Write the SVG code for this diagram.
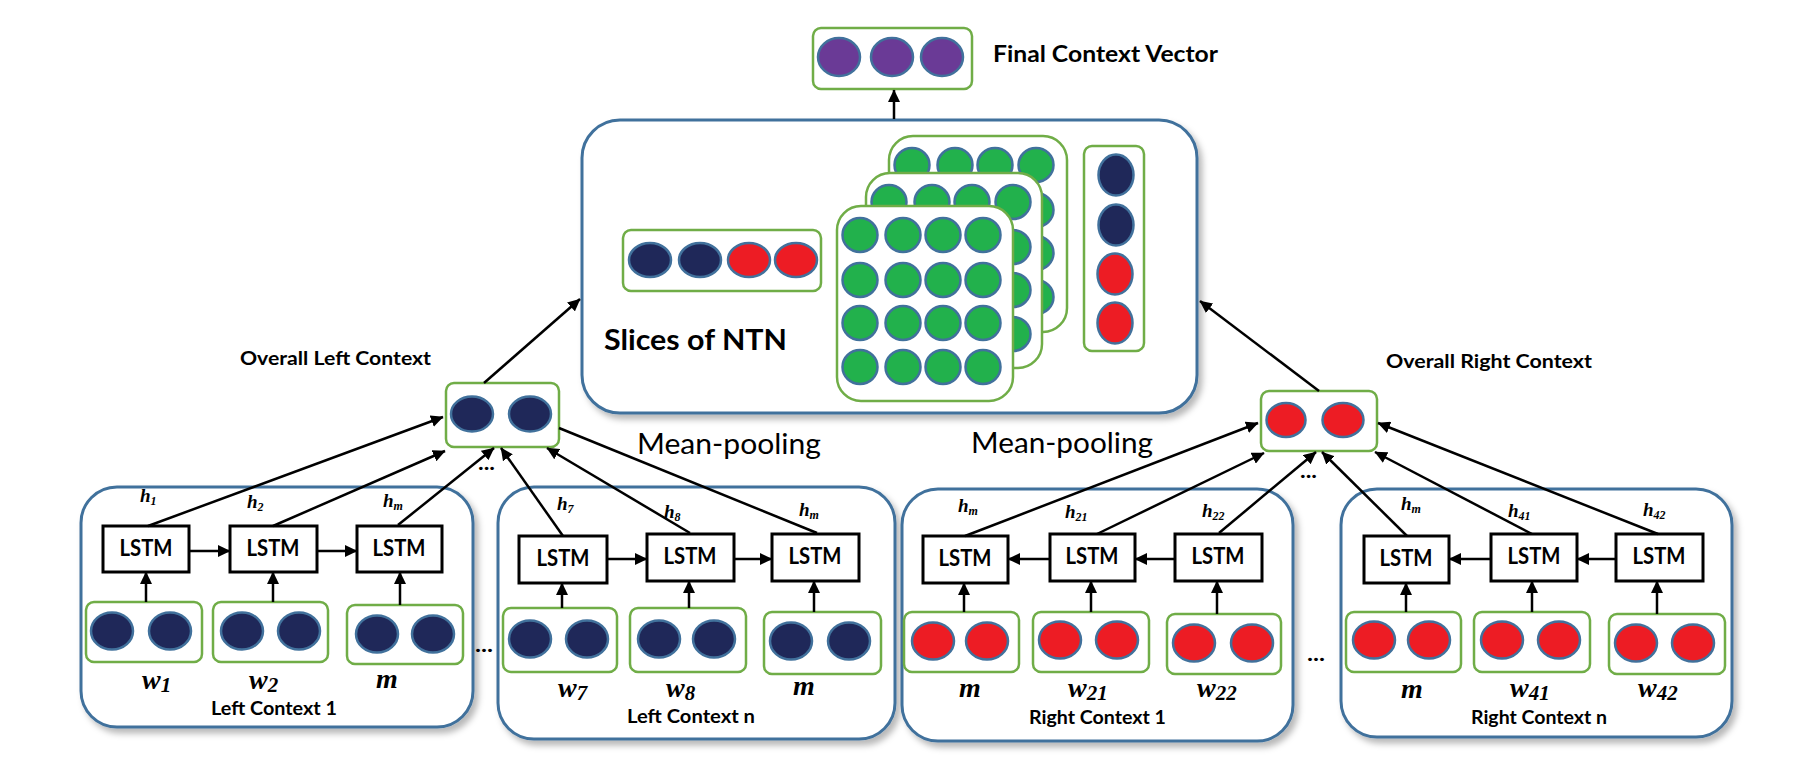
<svg xmlns="http://www.w3.org/2000/svg" width="1816" height="775" viewBox="0 0 1816 775">
<defs>
<filter id="sh" x="-5%" y="-5%" width="115%" height="120%">
<feDropShadow dx="4" dy="5" stdDeviation="3" flood-color="#000" flood-opacity="0.28"/>
</filter>
<marker id="ah" markerWidth="13" markerHeight="12" refX="12" refY="6" orient="auto" markerUnits="userSpaceOnUse">
<path d="M0,0 L12.5,6 L0,12 Z" fill="#000"/>
</marker>
<style>
.ctx{fill:#fff;stroke:#41719C;stroke-width:3;filter:url(#sh)}
.vec{fill:#fff;stroke:#70AD47;stroke-width:2.5}
.lstm{fill:#fff;stroke:#000;stroke-width:3}
.nv{fill:#1F2859;stroke:#41719C;stroke-width:2.5}
.rd{fill:#ED1C24;stroke:#41719C;stroke-width:2.5}
.gr{fill:#22B14C;stroke:#41719C;stroke-width:2.5}
.pu{fill:#6A3A96;stroke:#41719C;stroke-width:2.5}
.cn line{stroke:#000;stroke-width:2.5;marker-end:url(#ah)}
.cn line.na{marker-end:none}
.lbl{font-family:Lato,"Liberation Sans",sans-serif;font-weight:bold;fill:#000}
.reg{font-family:Lato,"Liberation Sans",sans-serif;font-weight:normal;fill:#000}
.lt{font-family:Lato,"Liberation Sans",sans-serif;font-weight:bold;font-size:22px;text-anchor:middle}
.ser{font-family:"Liberation Serif","Times New Roman",serif;font-weight:bold;font-style:italic;fill:#000}
.h{font-size:19px}
.w{font-size:28px}
</style>
</defs>

<!-- Final context vector -->
<g id="final">
<rect class="vec" x="813" y="28" width="159" height="61" rx="8"/>
<ellipse class="pu" cx="839" cy="57" rx="21" ry="19"/>
<ellipse class="pu" cx="892" cy="57" rx="21" ry="19"/>
<ellipse class="pu" cx="942" cy="57" rx="21" ry="19"/>
<text class="lbl" x="993" y="62" font-size="23" textLength="225" lengthAdjust="spacingAndGlyphs">Final Context Vector</text>
</g>

<!-- NTN -->
<g id="ntn">
<rect class="ctx" x="582" y="120" width="615" height="293" rx="38"/>
<rect class="vec" x="623" y="230" width="198" height="61" rx="8"/>
<ellipse class="nv" cx="650" cy="260" rx="21" ry="17"/>
<ellipse class="nv" cx="700" cy="260" rx="21" ry="17"/>
<ellipse class="rd" cx="749" cy="260" rx="21" ry="17"/>
<ellipse class="rd" cx="796" cy="260" rx="21" ry="17"/>
<text class="lbl" x="604" y="350" font-size="28" textLength="183" lengthAdjust="spacingAndGlyphs">Slices of NTN</text>
<g id="slice3" transform="translate(889,136)">
<rect class="vec" x="0" y="0" width="178" height="196" rx="24"/>
<g class="gr">
<ellipse cx="23" cy="29" rx="17.5" ry="17"/><ellipse cx="66" cy="29" rx="17.5" ry="17"/><ellipse cx="106" cy="29" rx="17.5" ry="17"/><ellipse cx="147" cy="29" rx="17.5" ry="17"/>
<ellipse cx="23" cy="74" rx="17.5" ry="17"/><ellipse cx="66" cy="74" rx="17.5" ry="17"/><ellipse cx="106" cy="74" rx="17.5" ry="17"/><ellipse cx="147" cy="74" rx="17.5" ry="17"/>
<ellipse cx="23" cy="117" rx="17.5" ry="17"/><ellipse cx="66" cy="117" rx="17.5" ry="17"/><ellipse cx="106" cy="117" rx="17.5" ry="17"/><ellipse cx="147" cy="117" rx="17.5" ry="17"/>
<ellipse cx="23" cy="161" rx="17.5" ry="17"/><ellipse cx="66" cy="161" rx="17.5" ry="17"/><ellipse cx="106" cy="161" rx="17.5" ry="17"/><ellipse cx="147" cy="161" rx="17.5" ry="17"/>
</g>
</g>
<g id="slice2" transform="translate(866,173)">
<rect class="vec" x="0" y="0" width="176" height="195" rx="24"/>
<g class="gr">
<ellipse cx="23" cy="29" rx="17.5" ry="17"/><ellipse cx="66" cy="29" rx="17.5" ry="17"/><ellipse cx="106" cy="29" rx="17.5" ry="17"/><ellipse cx="147" cy="29" rx="17.5" ry="17"/>
<ellipse cx="23" cy="74" rx="17.5" ry="17"/><ellipse cx="66" cy="74" rx="17.5" ry="17"/><ellipse cx="106" cy="74" rx="17.5" ry="17"/><ellipse cx="147" cy="74" rx="17.5" ry="17"/>
<ellipse cx="23" cy="117" rx="17.5" ry="17"/><ellipse cx="66" cy="117" rx="17.5" ry="17"/><ellipse cx="106" cy="117" rx="17.5" ry="17"/><ellipse cx="147" cy="117" rx="17.5" ry="17"/>
<ellipse cx="23" cy="161" rx="17.5" ry="17"/><ellipse cx="66" cy="161" rx="17.5" ry="17"/><ellipse cx="106" cy="161" rx="17.5" ry="17"/><ellipse cx="147" cy="161" rx="17.5" ry="17"/>
</g>
</g>
<g id="slice1" transform="translate(837,206)">
<rect class="vec" x="0" y="0" width="176" height="195" rx="24"/>
<g class="gr">
<ellipse cx="23" cy="29" rx="17.5" ry="17"/><ellipse cx="66" cy="29" rx="17.5" ry="17"/><ellipse cx="106" cy="29" rx="17.5" ry="17"/><ellipse cx="146" cy="29" rx="17.5" ry="17"/>
<ellipse cx="23" cy="74" rx="17.5" ry="17"/><ellipse cx="66" cy="74" rx="17.5" ry="17"/><ellipse cx="106" cy="74" rx="17.5" ry="17"/><ellipse cx="146" cy="74" rx="17.5" ry="17"/>
<ellipse cx="23" cy="117" rx="17.5" ry="17"/><ellipse cx="66" cy="117" rx="17.5" ry="17"/><ellipse cx="106" cy="117" rx="17.5" ry="17"/><ellipse cx="146" cy="117" rx="17.5" ry="17"/>
<ellipse cx="23" cy="161" rx="17.5" ry="17"/><ellipse cx="66" cy="161" rx="17.5" ry="17"/><ellipse cx="106" cy="161" rx="17.5" ry="17"/><ellipse cx="146" cy="161" rx="17.5" ry="17"/>
</g>
</g>
<rect class="vec" x="1084" y="146" width="60" height="205" rx="8"/>
<ellipse class="nv" cx="1116" cy="175" rx="17.5" ry="20.5"/>
<ellipse class="nv" cx="1116" cy="225" rx="17.5" ry="20.5"/>
<ellipse class="rd" cx="1115" cy="274" rx="17.5" ry="20.5"/>
<ellipse class="rd" cx="1115" cy="323" rx="17.5" ry="20.5"/>
</g>

<!-- Overall left / right -->
<g id="overall-left">
<rect class="vec" x="446" y="383" width="113" height="64" rx="8"/>
<ellipse class="nv" cx="472" cy="414" rx="21" ry="17.5"/>
<ellipse class="nv" cx="530" cy="414" rx="21" ry="17.5"/>
<text class="lbl" x="240" y="365" font-size="18" textLength="191" lengthAdjust="spacingAndGlyphs">Overall Left Context</text>
</g>
<g id="overall-right">
<rect class="vec" x="1261" y="391" width="116" height="60" rx="8"/>
<ellipse class="rd" cx="1286" cy="420" rx="19.5" ry="17"/>
<ellipse class="rd" cx="1343" cy="420" rx="20.5" ry="17"/>
<text class="lbl" x="1386" y="368" font-size="18" textLength="206" lengthAdjust="spacingAndGlyphs">Overall Right Context</text>
</g>

<text class="reg" x="637" y="454" font-size="28" textLength="184" lengthAdjust="spacingAndGlyphs">Mean-pooling</text>
<text class="reg" x="971" y="453" font-size="28" textLength="182" lengthAdjust="spacingAndGlyphs">Mean-pooling</text>

<!-- Left Context 1 -->
<g id="left-context-1">
<rect class="ctx" x="81" y="487" width="392" height="240" rx="36"/>
<rect class="lstm" x="103" y="526" width="86" height="46"/>
<rect class="lstm" x="230" y="526" width="87" height="46"/>
<rect class="lstm" x="357" y="526" width="85" height="46"/>
<text class="lt" x="146" y="556" textLength="53" lengthAdjust="spacingAndGlyphs">LSTM</text>
<text class="lt" x="273" y="556" textLength="53" lengthAdjust="spacingAndGlyphs">LSTM</text>
<text class="lt" x="399" y="556" textLength="53" lengthAdjust="spacingAndGlyphs">LSTM</text>
<rect class="vec" x="86" y="602" width="116" height="60" rx="8"/>
<rect class="vec" x="213" y="602" width="115" height="60" rx="8"/>
<rect class="vec" x="347" y="605" width="116" height="59" rx="8"/>
<ellipse class="nv" cx="112" cy="631" rx="21" ry="18.5"/><ellipse class="nv" cx="170" cy="631" rx="21" ry="18.5"/>
<ellipse class="nv" cx="242" cy="631" rx="21" ry="18.5"/><ellipse class="nv" cx="299" cy="631" rx="21" ry="18.5"/>
<ellipse class="nv" cx="377" cy="634" rx="21" ry="18.5"/><ellipse class="nv" cx="433" cy="634" rx="21" ry="18.5"/>
<text class="ser h" x="140" y="502">h<tspan font-size="12" dy="3">1</tspan></text>
<text class="ser h" x="247" y="508">h<tspan font-size="12" dy="3">2</tspan></text>
<text class="ser h" x="383" y="507">h<tspan font-size="12" dy="3">m</tspan></text>
<text class="ser w" x="142" y="689">w<tspan font-size="21" dy="3">1</tspan></text>
<text class="ser w" x="249" y="689">w<tspan font-size="21" dy="3">2</tspan></text>
<text class="ser w" x="376" y="688">m</text>
<text class="lbl" x="211" y="715" font-size="18" textLength="126" lengthAdjust="spacingAndGlyphs">Left Context 1</text>
</g>

<!-- Left Context n -->
<g id="left-context-n">
<rect class="ctx" x="498" y="487" width="397" height="252" rx="36"/>
<rect class="lstm" x="519" y="536" width="88" height="47"/>
<rect class="lstm" x="647" y="534" width="87" height="47"/>
<rect class="lstm" x="772" y="534" width="87" height="47"/>
<text class="lt" x="563" y="566" textLength="53" lengthAdjust="spacingAndGlyphs">LSTM</text>
<text class="lt" x="690" y="564" textLength="53" lengthAdjust="spacingAndGlyphs">LSTM</text>
<text class="lt" x="815" y="564" textLength="53" lengthAdjust="spacingAndGlyphs">LSTM</text>
<rect class="vec" x="503" y="608" width="114" height="64" rx="8"/>
<rect class="vec" x="630" y="608" width="116" height="64" rx="8"/>
<rect class="vec" x="764" y="612" width="117" height="62" rx="8"/>
<ellipse class="nv" cx="530" cy="639" rx="21" ry="18.5"/><ellipse class="nv" cx="587" cy="639" rx="21" ry="18.5"/>
<ellipse class="nv" cx="659" cy="639" rx="21" ry="18.5"/><ellipse class="nv" cx="714" cy="639" rx="21" ry="18.5"/>
<ellipse class="nv" cx="791" cy="641" rx="21" ry="18.5"/><ellipse class="nv" cx="849" cy="641" rx="21" ry="18.5"/>
<text class="ser h" x="557" y="510">h<tspan font-size="12" dy="3">7</tspan></text>
<text class="ser h" x="664" y="518">h<tspan font-size="12" dy="3">8</tspan></text>
<text class="ser h" x="799" y="516">h<tspan font-size="12" dy="3">m</tspan></text>
<text class="ser w" x="558" y="697">w<tspan font-size="21" dy="3">7</tspan></text>
<text class="ser w" x="666" y="697">w<tspan font-size="21" dy="3">8</tspan></text>
<text class="ser w" x="793" y="695">m</text>
<text class="lbl" x="627" y="723" font-size="18" textLength="128" lengthAdjust="spacingAndGlyphs">Left Context n</text>
</g>

<!-- Right Context 1 -->
<g id="right-context-1">
<rect class="ctx" x="902" y="489" width="391" height="252" rx="36"/>
<rect class="lstm" x="923" y="536" width="85" height="47"/>
<rect class="lstm" x="1050" y="534" width="85" height="47"/>
<rect class="lstm" x="1175" y="534" width="87" height="47"/>
<text class="lt" x="965" y="566" textLength="53" lengthAdjust="spacingAndGlyphs">LSTM</text>
<text class="lt" x="1092" y="564" textLength="53" lengthAdjust="spacingAndGlyphs">LSTM</text>
<text class="lt" x="1218" y="564" textLength="53" lengthAdjust="spacingAndGlyphs">LSTM</text>
<rect class="vec" x="904" y="612" width="115" height="60" rx="8"/>
<rect class="vec" x="1033" y="612" width="116" height="60" rx="8"/>
<rect class="vec" x="1167" y="614" width="114" height="60" rx="8"/>
<ellipse class="rd" cx="933" cy="641" rx="21" ry="18.5"/><ellipse class="rd" cx="987" cy="641" rx="21" ry="18.5"/>
<ellipse class="rd" cx="1060" cy="640" rx="21" ry="18.5"/><ellipse class="rd" cx="1117" cy="640" rx="21" ry="18.5"/>
<ellipse class="rd" cx="1194" cy="643" rx="21" ry="18.5"/><ellipse class="rd" cx="1252" cy="643" rx="21" ry="18.5"/>
<text class="ser h" x="958" y="512">h<tspan font-size="12" dy="3">m</tspan></text>
<text class="ser h" x="1065" y="518">h<tspan font-size="12" dy="3">21</tspan></text>
<text class="ser h" x="1202" y="517">h<tspan font-size="12" dy="3">22</tspan></text>
<text class="ser w" x="959" y="697">m</text>
<text class="ser w" x="1068" y="697">w<tspan font-size="21" dy="3">21</tspan></text>
<text class="ser w" x="1197" y="697">w<tspan font-size="21" dy="3">22</tspan></text>
<text class="lbl" x="1029" y="724" font-size="18" textLength="137" lengthAdjust="spacingAndGlyphs">Right Context 1</text>
</g>

<!-- Right Context n -->
<g id="right-context-n">
<rect class="ctx" x="1341" y="489" width="391" height="248" rx="36"/>
<rect class="lstm" x="1364" y="536" width="85" height="47"/>
<rect class="lstm" x="1491" y="534" width="86" height="47"/>
<rect class="lstm" x="1616" y="534" width="87" height="47"/>
<text class="lt" x="1406" y="566" textLength="53" lengthAdjust="spacingAndGlyphs">LSTM</text>
<text class="lt" x="1534" y="564" textLength="53" lengthAdjust="spacingAndGlyphs">LSTM</text>
<text class="lt" x="1659" y="564" textLength="53" lengthAdjust="spacingAndGlyphs">LSTM</text>
<rect class="vec" x="1346" y="612" width="115" height="60" rx="8"/>
<rect class="vec" x="1474" y="612" width="116" height="60" rx="8"/>
<rect class="vec" x="1609" y="614" width="116" height="60" rx="8"/>
<ellipse class="rd" cx="1374" cy="640" rx="21" ry="18.5"/><ellipse class="rd" cx="1429" cy="640" rx="21" ry="18.5"/>
<ellipse class="rd" cx="1502" cy="640" rx="21" ry="18.5"/><ellipse class="rd" cx="1559" cy="640" rx="21" ry="18.5"/>
<ellipse class="rd" cx="1636" cy="643" rx="21" ry="18.5"/><ellipse class="rd" cx="1693" cy="643" rx="21" ry="18.5"/>
<text class="ser h" x="1401" y="510">h<tspan font-size="12" dy="3">m</tspan></text>
<text class="ser h" x="1508" y="517">h<tspan font-size="12" dy="3">41</tspan></text>
<text class="ser h" x="1643" y="516">h<tspan font-size="12" dy="3">42</tspan></text>
<text class="ser w" x="1401" y="698">m</text>
<text class="ser w" x="1510" y="697">w<tspan font-size="21" dy="3">41</tspan></text>
<text class="ser w" x="1638" y="697">w<tspan font-size="21" dy="3">42</tspan></text>
<text class="lbl" x="1471" y="724" font-size="18" textLength="136" lengthAdjust="spacingAndGlyphs">Right Context n</text>
</g>

<!-- ellipsis marks -->
<g id="dots" class="lbl" font-size="20">
<text x="475" y="652" textLength="18" lengthAdjust="spacingAndGlyphs">...</text>
<text x="478" y="470" textLength="17" lengthAdjust="spacingAndGlyphs">...</text>
<text x="1300" y="478" textLength="17" lengthAdjust="spacingAndGlyphs">...</text>
<text x="1307" y="661" textLength="18" lengthAdjust="spacingAndGlyphs">...</text>
</g>

<!-- connectors -->
<g id="connectors" class="cn">
<line x1="894" y1="119" x2="894" y2="90"/>
<line x1="484" y1="383" x2="580" y2="299"/>
<line x1="1319" y1="391" x2="1200" y2="301"/>
<line x1="148" y1="526" x2="443" y2="417"/>
<line x1="273" y1="526" x2="445" y2="451"/>
<line x1="398" y1="525" x2="494" y2="448"/>
<line x1="563" y1="536" x2="501" y2="448"/>
<line x1="690" y1="533" x2="547" y2="448"/>
<line class="na" x1="817" y1="533" x2="559" y2="428"/>
<line x1="965" y1="536" x2="1258" y2="423"/>
<line x1="1097" y1="534" x2="1264" y2="453"/>
<line x1="1219" y1="533" x2="1316" y2="452"/>
<line x1="1407" y1="536" x2="1322" y2="452"/>
<line x1="1532" y1="534" x2="1375" y2="452"/>
<line x1="1658" y1="534" x2="1378" y2="423"/>
<line x1="189" y1="551" x2="230" y2="551"/>
<line x1="317" y1="551" x2="357" y2="551"/>
<line x1="146" y1="602" x2="146" y2="572"/>
<line x1="273" y1="602" x2="273" y2="572"/>
<line x1="400" y1="605" x2="400" y2="572"/>
<line x1="607" y1="559" x2="647" y2="559"/>
<line x1="734" y1="559" x2="772" y2="559"/>
<line x1="562" y1="608" x2="562" y2="583"/>
<line x1="689" y1="608" x2="689" y2="581"/>
<line x1="814" y1="612" x2="814" y2="581"/>
<line x1="1050" y1="559" x2="1008" y2="559"/>
<line x1="1175" y1="559" x2="1135" y2="559"/>
<line x1="964" y1="612" x2="964" y2="583"/>
<line x1="1091" y1="612" x2="1091" y2="581"/>
<line x1="1217" y1="614" x2="1217" y2="581"/>
<line x1="1491" y1="559" x2="1449" y2="559"/>
<line x1="1616" y1="559" x2="1577" y2="559"/>
<line x1="1406" y1="612" x2="1406" y2="583"/>
<line x1="1532" y1="612" x2="1532" y2="581"/>
<line x1="1657" y1="614" x2="1657" y2="581"/>
</g>
</svg>
